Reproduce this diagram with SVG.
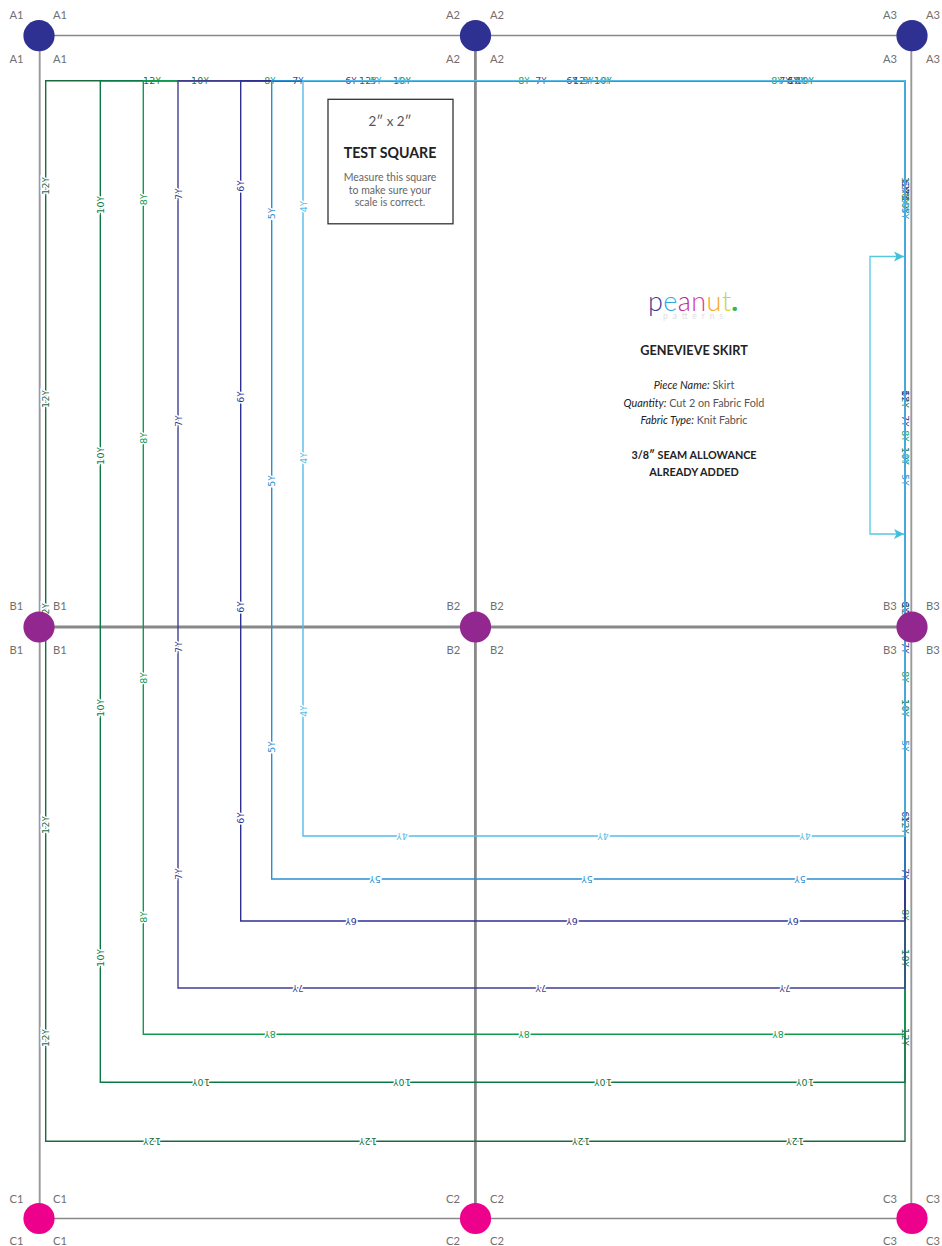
<svg xmlns="http://www.w3.org/2000/svg" width="942" height="1246" viewBox="0 0 942 1246">
<style>
text{font-family:"Lato","Liberation Sans",sans-serif}
.n{font-size:11.2px;fill:#707070}
.g{stroke-linecap:butt;fill:none}
.s{fill:none;stroke-width:1.4}
.l{font-family:"DejaVu Sans","Liberation Sans",sans-serif;font-size:9.5px;letter-spacing:.35px;text-anchor:middle}
.y{font-size:8px}
.h{stroke:#fff;stroke-width:3px;paint-order:stroke}
.c{text-anchor:middle}
.c12{fill:#1b6b3f}.c10{fill:#0b7a46}.c8{fill:#109a4e}.c7{fill:#423f8f}.c6{fill:#2e3192}.c5{fill:#2a8fd2}.c4{fill:#55bde8}
</style>
<defs>
<marker id="arr" markerUnits="userSpaceOnUse" markerWidth="12" markerHeight="12" refX="10" refY="6" orient="auto"><path d="M0,1 L10,6 L0,11 L2.5,6 Z" fill="#3fc1dc"/></marker>
</defs>
<g id="connectors">
<g id="grid" class="g">
<path d="M39,35.5H912" stroke="#888" stroke-width="1.4"/>
<path d="M39,1218.5H912" stroke="#888" stroke-width="1.6"/>
<path d="M39.7,35V1218" stroke="#999" stroke-width="1.9"/>
<path d="M475.4,35V1218" stroke="#888" stroke-width="2.8"/>
<path d="M911.3,35V1218" stroke="#999" stroke-width="1.9"/>
<path d="M39,627H912" stroke="#888" stroke-width="2.8"/>
</g>
<g id="size-12">
<path class="s" stroke="#1b6b3f" d="M45.7,80.8H905V1141.3H45.7Z"/>
<text class="l c12" x="152" y="84.3">12<tspan class="y">Y</tspan></text><text class="l c12" x="368" y="84.3">12<tspan class="y">Y</tspan></text><text class="l c12" x="582" y="84.3">12<tspan class="y">Y</tspan></text><text class="l c12" x="797" y="84.3">12<tspan class="y">Y</tspan></text>
<text class="l c12 h" transform="translate(49.2,186) rotate(-90)">12<tspan class="y">Y</tspan></text><text class="l c12 h" transform="translate(49.2,399) rotate(-90)">12<tspan class="y">Y</tspan></text><text class="l c12 h" transform="translate(49.2,612) rotate(-90)">12<tspan class="y">Y</tspan></text><text class="l c12 h" transform="translate(49.2,825) rotate(-90)">12<tspan class="y">Y</tspan></text><text class="l c12 h" transform="translate(49.2,1038) rotate(-90)">12<tspan class="y">Y</tspan></text>
<text class="l c12" transform="translate(901.5,186) rotate(90)">12<tspan class="y">Y</tspan></text><text class="l c12" transform="translate(901.5,399) rotate(90)">12<tspan class="y">Y</tspan></text><text class="l c12" transform="translate(901.5,612) rotate(90)">12<tspan class="y">Y</tspan></text><text class="l c12" transform="translate(901.5,825) rotate(90)">12<tspan class="y">Y</tspan></text><text class="l c12" transform="translate(901.5,1037) rotate(90)">12<tspan class="y">Y</tspan></text>
<text class="l c12 h" transform="translate(152,1137.8) rotate(180)">12<tspan class="y">Y</tspan></text><text class="l c12 h" transform="translate(368,1137.8) rotate(180)">12<tspan class="y">Y</tspan></text><text class="l c12 h" transform="translate(581,1137.8) rotate(180)">12<tspan class="y">Y</tspan></text><text class="l c12 h" transform="translate(795,1137.8) rotate(180)">12<tspan class="y">Y</tspan></text>
</g>
<g id="size-10">
<path class="s" stroke="#0b7a46" d="M100.3,80.8H905V1082.3H100.3Z"/>
<text class="l c10" x="200" y="84.3">10<tspan class="y">Y</tspan></text><text class="l c10" x="402" y="84.3">10<tspan class="y">Y</tspan></text><text class="l c10" x="603" y="84.3">10<tspan class="y">Y</tspan></text><text class="l c10" x="805" y="84.3">10<tspan class="y">Y</tspan></text>
<text class="l c10 h" transform="translate(103.8,205) rotate(-90)">10<tspan class="y">Y</tspan></text><text class="l c10 h" transform="translate(103.8,456) rotate(-90)">10<tspan class="y">Y</tspan></text><text class="l c10 h" transform="translate(103.8,708) rotate(-90)">10<tspan class="y">Y</tspan></text><text class="l c10 h" transform="translate(103.8,958) rotate(-90)">10<tspan class="y">Y</tspan></text>
<text class="l c10" transform="translate(901.5,205) rotate(90)">10<tspan class="y">Y</tspan></text><text class="l c10" transform="translate(901.5,456) rotate(90)">10<tspan class="y">Y</tspan></text><text class="l c10" transform="translate(901.5,708) rotate(90)">10<tspan class="y">Y</tspan></text><text class="l c10" transform="translate(901.5,958) rotate(90)">10<tspan class="y">Y</tspan></text>
<text class="l c10 h" transform="translate(201,1078.8) rotate(180)">10<tspan class="y">Y</tspan></text><text class="l c10 h" transform="translate(402,1078.8) rotate(180)">10<tspan class="y">Y</tspan></text><text class="l c10 h" transform="translate(603,1078.8) rotate(180)">10<tspan class="y">Y</tspan></text><text class="l c10 h" transform="translate(805,1078.8) rotate(180)">10<tspan class="y">Y</tspan></text>
</g>
<g id="size-8">
<path class="s" stroke="#109a4e" d="M143.3,80.8H905V1034.3H143.3Z"/>
<text class="l c8" x="270" y="84.3">8<tspan class="y">Y</tspan></text><text class="l c8" x="524" y="84.3">8<tspan class="y">Y</tspan></text><text class="l c8" x="777" y="84.3">8<tspan class="y">Y</tspan></text>
<text class="l c8 h" transform="translate(146.8,199.5) rotate(-90)">8<tspan class="y">Y</tspan></text><text class="l c8 h" transform="translate(146.8,438) rotate(-90)">8<tspan class="y">Y</tspan></text><text class="l c8 h" transform="translate(146.8,678) rotate(-90)">8<tspan class="y">Y</tspan></text><text class="l c8 h" transform="translate(146.8,917) rotate(-90)">8<tspan class="y">Y</tspan></text>
<text class="l c8" transform="translate(901.5,199) rotate(90)">8<tspan class="y">Y</tspan></text><text class="l c8" transform="translate(901.5,436) rotate(90)">8<tspan class="y">Y</tspan></text><text class="l c8" transform="translate(901.5,677) rotate(90)">8<tspan class="y">Y</tspan></text><text class="l c8" transform="translate(901.5,915) rotate(90)">8<tspan class="y">Y</tspan></text>
<text class="l c8 h" transform="translate(270,1030.8) rotate(180)">8<tspan class="y">Y</tspan></text><text class="l c8 h" transform="translate(524,1030.8) rotate(180)">8<tspan class="y">Y</tspan></text><text class="l c8 h" transform="translate(778,1030.8) rotate(180)">8<tspan class="y">Y</tspan></text>
</g>
<g id="size-7">
<path class="s" stroke="#423f8f" d="M178,80.8H905V988H178Z"/>
<text class="l c7" x="298" y="84.3">7<tspan class="y">Y</tspan></text><text class="l c7" x="541" y="84.3">7<tspan class="y">Y</tspan></text><text class="l c7" x="785" y="84.3">7<tspan class="y">Y</tspan></text>
<text class="l c7 h" transform="translate(181.5,194) rotate(-90)">7<tspan class="y">Y</tspan></text><text class="l c7 h" transform="translate(181.5,421) rotate(-90)">7<tspan class="y">Y</tspan></text><text class="l c7 h" transform="translate(181.5,647) rotate(-90)">7<tspan class="y">Y</tspan></text><text class="l c7 h" transform="translate(181.5,874) rotate(-90)">7<tspan class="y">Y</tspan></text>
<text class="l c7" transform="translate(901.5,194) rotate(90)">7<tspan class="y">Y</tspan></text><text class="l c7" transform="translate(901.5,421) rotate(90)">7<tspan class="y">Y</tspan></text><text class="l c7" transform="translate(901.5,648) rotate(90)">7<tspan class="y">Y</tspan></text><text class="l c7" transform="translate(901.5,874) rotate(90)">7<tspan class="y">Y</tspan></text>
<text class="l c7 h" transform="translate(298,984.5) rotate(180)">7<tspan class="y">Y</tspan></text><text class="l c7 h" transform="translate(541,984.5) rotate(180)">7<tspan class="y">Y</tspan></text><text class="l c7 h" transform="translate(785,984.5) rotate(180)">7<tspan class="y">Y</tspan></text>
</g>
<g id="size-6">
<path class="s" stroke="#2e3192" d="M240.7,80.8H905V921H240.7Z"/>
<text class="l c6" x="351" y="84.3">6<tspan class="y">Y</tspan></text><text class="l c6" x="572" y="84.3">6<tspan class="y">Y</tspan></text><text class="l c6" x="793" y="84.3">6<tspan class="y">Y</tspan></text>
<text class="l c6 h" transform="translate(244.2,186) rotate(-90)">6<tspan class="y">Y</tspan></text><text class="l c6 h" transform="translate(244.2,397) rotate(-90)">6<tspan class="y">Y</tspan></text><text class="l c6 h" transform="translate(244.2,607) rotate(-90)">6<tspan class="y">Y</tspan></text><text class="l c6 h" transform="translate(244.2,818) rotate(-90)">6<tspan class="y">Y</tspan></text>
<text class="l c6" transform="translate(901.5,186) rotate(90)">6<tspan class="y">Y</tspan></text><text class="l c6" transform="translate(901.5,396) rotate(90)">6<tspan class="y">Y</tspan></text><text class="l c6" transform="translate(901.5,607) rotate(90)">6<tspan class="y">Y</tspan></text><text class="l c6" transform="translate(901.5,817) rotate(90)">6<tspan class="y">Y</tspan></text>
<text class="l c6 h" transform="translate(351,917.5) rotate(180)">6<tspan class="y">Y</tspan></text><text class="l c6 h" transform="translate(572,917.5) rotate(180)">6<tspan class="y">Y</tspan></text><text class="l c6 h" transform="translate(793,917.5) rotate(180)">6<tspan class="y">Y</tspan></text>
</g>
<g id="size-5">
<path class="s" stroke="#2a8fd2" d="M271.7,80.8H905V879H271.7Z"/>
<text class="l c5" x="376" y="84.3">5<tspan class="y">Y</tspan></text><text class="l c5" x="588" y="84.3">5<tspan class="y">Y</tspan></text><text class="l c5" x="800" y="84.3">5<tspan class="y">Y</tspan></text>
<text class="l c5 h" transform="translate(275.2,213.5) rotate(-90)">5<tspan class="y">Y</tspan></text><text class="l c5 h" transform="translate(275.2,481) rotate(-90)">5<tspan class="y">Y</tspan></text><text class="l c5 h" transform="translate(275.2,747) rotate(-90)">5<tspan class="y">Y</tspan></text>
<text class="l c5" transform="translate(901.5,213.5) rotate(90)">5<tspan class="y">Y</tspan></text><text class="l c5" transform="translate(901.5,480) rotate(90)">5<tspan class="y">Y</tspan></text><text class="l c5" transform="translate(901.5,746) rotate(90)">5<tspan class="y">Y</tspan></text>
<text class="l c5 h" transform="translate(375,875.5) rotate(180)">5<tspan class="y">Y</tspan></text><text class="l c5 h" transform="translate(587,875.5) rotate(180)">5<tspan class="y">Y</tspan></text><text class="l c5 h" transform="translate(800,875.5) rotate(180)">5<tspan class="y">Y</tspan></text>
</g>
<g id="size-4">
<path class="s" stroke="#55bde8" d="M303,80.8H905V836H303Z"/>
<text class="l c4" x="402" y="84.3">4<tspan class="y">Y</tspan></text><text class="l c4" x="604" y="84.3">4<tspan class="y">Y</tspan></text><text class="l c4" x="805" y="84.3">4<tspan class="y">Y</tspan></text>
<text class="l c4 h" transform="translate(306.5,206.5) rotate(-90)">4<tspan class="y">Y</tspan></text><text class="l c4 h" transform="translate(306.5,458) rotate(-90)">4<tspan class="y">Y</tspan></text><text class="l c4 h" transform="translate(306.5,711) rotate(-90)">4<tspan class="y">Y</tspan></text>
<text class="l c4" transform="translate(901.5,206.5) rotate(90)">4<tspan class="y">Y</tspan></text><text class="l c4" transform="translate(901.5,458) rotate(90)">4<tspan class="y">Y</tspan></text><text class="l c4" transform="translate(901.5,711) rotate(90)">4<tspan class="y">Y</tspan></text>
<text class="l c4 h" transform="translate(402,832.5) rotate(180)">4<tspan class="y">Y</tspan></text><text class="l c4 h" transform="translate(603,832.5) rotate(180)">4<tspan class="y">Y</tspan></text><text class="l c4 h" transform="translate(805,832.5) rotate(180)">4<tspan class="y">Y</tspan></text>
</g>
<path id="fold-arrow-top" d="M870,394V256.5H904" fill="none" stroke="#55c8e0" stroke-width="1.3" marker-end="url(#arr)"/>
<path id="fold-arrow-bottom" d="M870,394V534H904" fill="none" stroke="#55c8e0" stroke-width="1.3" marker-end="url(#arr)"/>
</g>
<g id="node-A1"><circle cx="39" cy="35.7" r="15.6" fill="#2e3192"/><text class="n" x="9.5" y="19">A1</text><text class="n" x="53" y="19">A1</text><text class="n" x="9.5" y="63">A1</text><text class="n" x="53" y="63">A1</text></g>
<g id="node-A2"><circle cx="475.5" cy="35.7" r="15.6" fill="#2e3192"/><text class="n" x="446" y="19">A2</text><text class="n" x="490" y="19">A2</text><text class="n" x="446" y="63">A2</text><text class="n" x="490" y="63">A2</text></g>
<g id="node-A3"><circle cx="912" cy="35.7" r="15.6" fill="#2e3192"/><text class="n" x="883" y="19">A3</text><text class="n" x="926" y="19">A3</text><text class="n" x="883" y="63">A3</text><text class="n" x="926" y="63">A3</text></g>
<g id="node-B1"><circle cx="39" cy="627" r="15.6" fill="#92278f"/><text class="n" x="9.5" y="610">B1</text><text class="n" x="53" y="610">B1</text><text class="n" x="9.5" y="654">B1</text><text class="n" x="53" y="654">B1</text></g>
<g id="node-B2"><circle cx="475.5" cy="627" r="15.6" fill="#92278f"/><text class="n" x="446.5" y="610">B2</text><text class="n" x="490" y="610">B2</text><text class="n" x="446.5" y="654">B2</text><text class="n" x="490" y="654">B2</text></g>
<g id="node-B3"><circle cx="912" cy="627" r="15.6" fill="#92278f"/><text class="n" x="883" y="610">B3</text><text class="n" x="926" y="610">B3</text><text class="n" x="883" y="654">B3</text><text class="n" x="926" y="654">B3</text></g>
<g id="node-C1"><circle cx="39" cy="1218.5" r="15.6" fill="#ec008c"/><text class="n" x="9.5" y="1202.5">C1</text><text class="n" x="53" y="1202.5">C1</text><text class="n" x="9.5" y="1245">C1</text><text class="n" x="53" y="1245">C1</text></g>
<g id="node-C2"><circle cx="475.5" cy="1218.5" r="15.6" fill="#ec008c"/><text class="n" x="446" y="1202.5">C2</text><text class="n" x="490" y="1202.5">C2</text><text class="n" x="446" y="1245">C2</text><text class="n" x="490" y="1245">C2</text></g>
<g id="node-C3"><circle cx="912" cy="1218.5" r="15.6" fill="#ec008c"/><text class="n" x="883" y="1202.5">C3</text><text class="n" x="926" y="1202.5">C3</text><text class="n" x="883" y="1245">C3</text><text class="n" x="926" y="1245">C3</text></g>
<g id="test-square">
<rect x="328" y="99.3" width="125" height="124.5" fill="#fff" stroke="#333" stroke-width="1.3"/>
<text class="c" x="390" y="126" font-size="13.4" fill="#555">2″ x 2″</text>
<text class="c" x="390" y="158" font-size="14.2" font-weight="700" fill="#222">TEST SQUARE</text>
<text class="c" x="390" y="181" font-size="10.5" fill="#666">Measure this square</text>
<text class="c" x="390" y="193.5" font-size="10.5" fill="#666">to make sure your</text>
<text class="c" x="390" y="206" font-size="10.5" fill="#666">scale is correct.</text>
</g>
<g id="logo">
<text x="648" y="311" font-size="27" font-weight="300" textLength="90" lengthAdjust="spacing"><tspan fill="#3b3a9a">p</tspan><tspan fill="#29abe2">e</tspan><tspan fill="#c2278f">a</tspan><tspan fill="#d6409f">n</tspan><tspan fill="#f7a823">u</tspan><tspan fill="#c9d630">t</tspan><tspan fill="#39b54a" font-weight="900">.</tspan></text>
<text x="663" y="319" font-size="8.5" fill="#ddd" textLength="60" lengthAdjust="spacing">patterns</text>
</g>
<g id="info">
<text class="c" x="694" y="355" font-size="12.7" font-weight="700" fill="#222">GENEVIEVE SKIRT</text>
<text class="c" x="694" y="389" font-size="10.9" fill="#555"><tspan font-style="italic" fill="#222">Piece Name:</tspan> Skirt</text>
<text class="c" x="694" y="407" font-size="10.8" fill="#555"><tspan font-style="italic" fill="#222">Quantity:</tspan> Cut 2 on Fabric Fold</text>
<text class="c" x="694" y="424" font-size="10.8" fill="#555"><tspan font-style="italic" fill="#222">Fabric Type:</tspan> Knit Fabric</text>
<text class="c" x="694" y="459" font-size="10.8" font-weight="700" fill="#222">3/8″ SEAM ALLOWANCE</text>
<text class="c" x="694" y="476" font-size="10.9" font-weight="700" fill="#222">ALREADY ADDED</text>
</g>
</svg>
